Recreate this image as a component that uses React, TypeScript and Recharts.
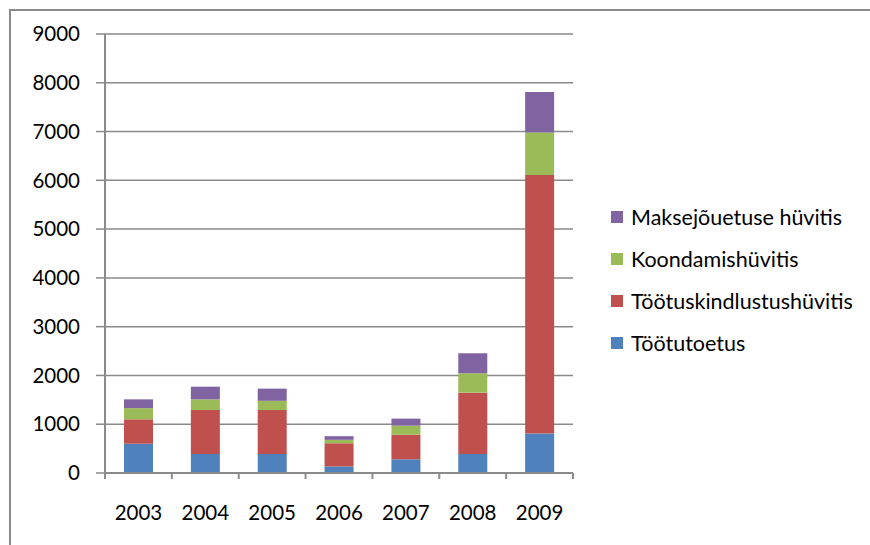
import { BarChart, Bar, XAxis, YAxis, CartesianGrid, Legend } from 'recharts';

const years = ['2003', '2004', '2005', '2006', '2007', '2008', '2009'];
const tootutoetus = [600, 390, 390, 135, 280, 390, 810];
const tootuskindlustus = [500, 900, 900, 475, 505, 1257, 5300];
const koondamis = [230, 220, 190, 70, 185, 398, 870];
const maksejouetus = [180, 260, 250, 75, 145, 410, 830];
const yTicks = [0, 1000, 2000, 3000, 4000, 5000, 6000, 7000, 8000, 9000];

const series = [
  { key: 'tootutoetus', name: 'Töötutoetus', color: '#4F81BD' },
  { key: 'tootuskindlustus', name: 'Töötuskindlustushüvitis', color: '#C0504D' },
  { key: 'koondamis', name: 'Koondamishüvitis', color: '#9BBB59' },
  { key: 'maksejouetus', name: 'Maksejõuetuse hüvitis', color: '#8064A2' },
];

const data = years.map((year, i) => ({
  year,
  tootutoetus: tootutoetus[i],
  tootuskindlustus: tootuskindlustus[i],
  koondamis: koondamis[i],
  maksejouetus: maksejouetus[i],
}));

const FONT = 'Lato, "Open Sans", sans-serif';
const GRAY = '#8a8a8a';

// Excel-style ticks sit between the categories, so draw them ourselves
const YearTick = (props: any) => {
  const { x, y, payload, index } = props;
  const half = payload.offset || 0;
  return (
    <g>
      <line x1={x - half} y1={y - 6} x2={x - half} y2={y} stroke={GRAY} strokeWidth={2} />
      {index === years.length - 1 && (
        <line x1={x + half} y1={y - 6} x2={x + half} y2={y} stroke={GRAY} strokeWidth={2} />
      )}
      <text x={x} y={y + 41} textAnchor="middle" fill="#000" fontSize={20.5} fontFamily={FONT}>
        {payload.value}
      </text>
    </g>
  );
};

const LegendList = () => (
  <div style={{ fontFamily: FONT, fontSize: 21.5, color: '#000' }}>
    {[...series].reverse().map((s) => (
      <div key={s.key} style={{ display: 'flex', alignItems: 'center', height: 42 }}>
        <span style={{ width: 12, height: 12, background: s.color, marginRight: 8, display: 'inline-block' }} />
        <span>{s.name}</span>
      </div>
    ))}
  </div>
);

export default function App() {
  return (
    <div
      style={{
        position: 'fixed',
        left: 9,
        top: 9,
        width: 880,
        height: 560,
        borderLeft: `2px solid ${GRAY}`,
        borderTop: `2px solid ${GRAY}`,
        background: '#fff',
      }}
    >
      <BarChart
        width={860}
        height={534}
        data={data}
        margin={{ top: 23, right: 298, left: 0, bottom: 12 }}
      >
        <CartesianGrid vertical={false} stroke={GRAY} strokeWidth={1.5} />
        <XAxis
          dataKey="year"
          tick={<YearTick />}
          tickLine={false}
          tickSize={6}
          tickMargin={0}
          height={60}
          axisLine={{ stroke: GRAY, strokeWidth: 2 }}
          interval={0}
        />
        <YAxis
          width={94}
          domain={[0, 9000]}
          ticks={yTicks}
          interval={0}
          tickSize={9}
          tickMargin={16}
          tickLine={{ stroke: GRAY, strokeWidth: 1.5 }}
          axisLine={{ stroke: GRAY, strokeWidth: 2 }}
          tick={{ fill: '#000', fontSize: 20.5, fontFamily: FONT }}
        />
        <Legend
          layout="horizontal"
          verticalAlign="middle"
          align="center"
          content={<LegendList />}
          wrapperStyle={{ left: 600, top: 185, width: 260 }}
        />
        {series.map((s) => (
          <Bar
            key={s.key}
            dataKey={s.key}
            name={s.name}
            stackId="a"
            fill={s.color}
            barSize={29}
            isAnimationActive={false}
          />
        ))}
      </BarChart>
    </div>
  );
}
